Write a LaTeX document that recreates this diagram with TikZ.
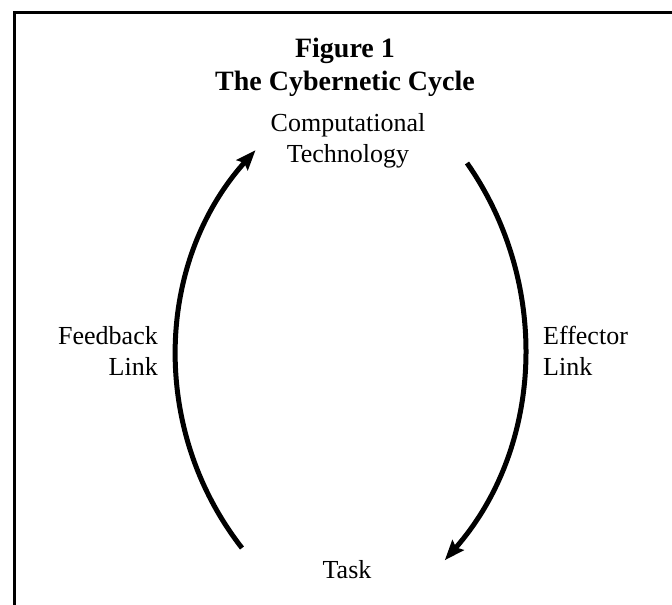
\documentclass[tikz,border=0pt]{standalone}
\usepackage{fontspec}
\setmainfont{Liberation Serif}
\usetikzlibrary{arrows.meta}
\begin{document}
\begin{tikzpicture}[x=1pt,y=-1pt,
  lbl/.style={inner sep=0pt, font=\fontsize{26pt}{31pt}\selectfont},
  ttl/.style={inner sep=0pt, font=\bfseries\fontsize{28pt}{33pt}\selectfont, align=center},
  link/.style={line width=5pt, -{Stealth[length=20pt,width=15pt,inset=3pt]}},
  frame/.style={line width=3pt}]
\useasboundingbox (0,0) rectangle (672,605);
% frame (top and left edges only)
\coordinate (frtr) at (672,12);
\coordinate (frtl) at (14,12);
\coordinate (frbl) at (14,605);
\draw[frame] (frtr) -- (frtl) -- (frbl);
% texts (base anchor = baseline of the last line)
\node[ttl, anchor=base] (title) at (345,90) {Figure 1\\The Cybernetic Cycle};
\node[lbl, align=center, anchor=base] (comp) at (348,162) {Computational\\Technology};
\node[lbl, anchor=base] (task) at (347,578) {Task};
\node[lbl, align=right, anchor=base east] (fb) at (158,375) {Feedback\\Link};
\node[lbl, align=left, anchor=base west] (ef) at (543,375) {Effector\\Link};
% cycle arcs
\coordinate (fbstart) at (242,548);
\coordinate (efstart) at (467,163);
\draw[link] (fbstart) arc[start angle=142, end angle=221.9, radius=310];
\draw[link] (efstart) arc[start angle=-34.9, end angle=41.3, radius=322.4];
\end{tikzpicture}
\end{document}
